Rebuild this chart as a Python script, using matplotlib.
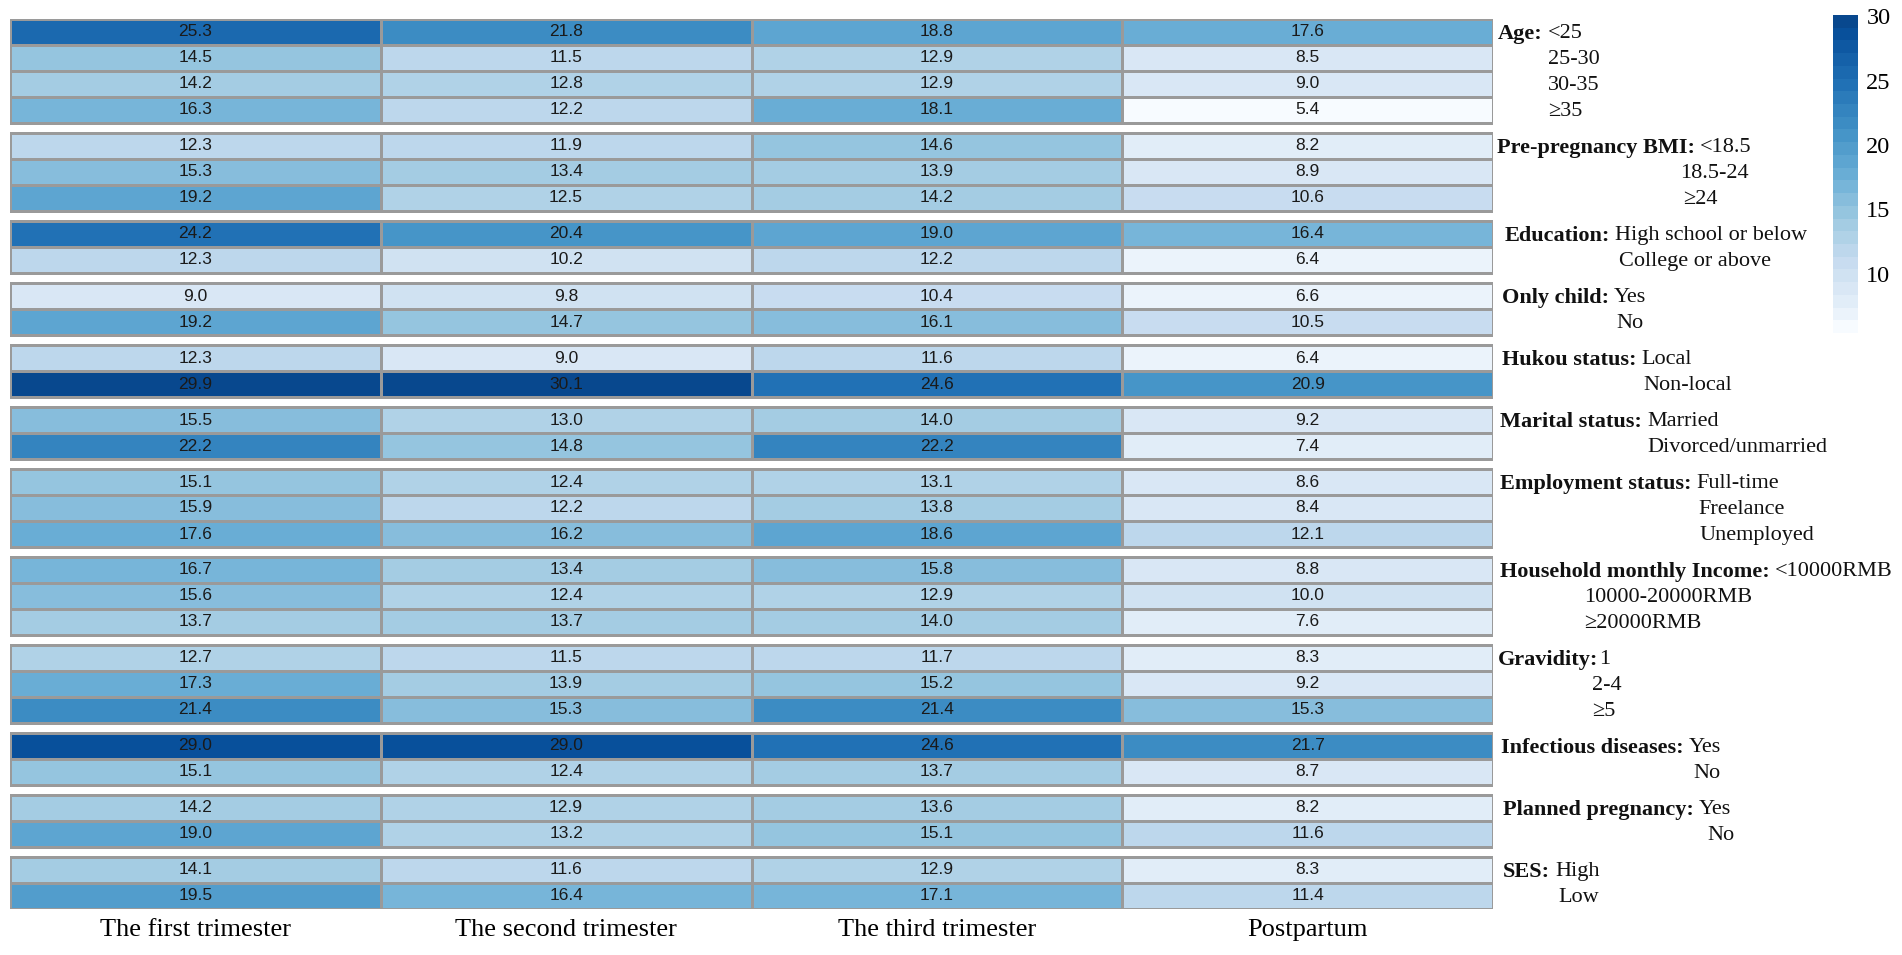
import numpy as np
import matplotlib
matplotlib.use("Agg")
import matplotlib.pyplot as plt
from matplotlib.colors import ListedColormap, Normalize
from matplotlib.cm import ScalarMappable
from matplotlib.transforms import blended_transform_factory

# ---- data (prevalence, %) ----
periods = ["The first trimester", "The second trimester", "The third trimester", "Postpartum"]

group_names = ["Age:", "Pre-pregnancy BMI:", "Education:", "Only child:", "Hukou status:",
               "Marital status:", "Employment status:", "Household monthly Income:",
               "Gravidity:", "Infectious diseases:", "Planned pregnancy:", "SES:"]

age_levels = ["<25", "25-30", "30-35", "≥35"]
age_vals = [[25.3, 21.8, 18.8, 17.6],
            [14.5, 11.5, 12.9, 8.5],
            [14.2, 12.8, 12.9, 9.0],
            [16.3, 12.2, 18.1, 5.4]]

bmi_levels = ["<18.5", "18.5-24", "≥24"]
bmi_vals = [[12.3, 11.9, 14.6, 8.2],
            [15.3, 13.4, 13.9, 8.9],
            [19.2, 12.5, 14.2, 10.6]]

edu_levels = ["High school or below", "College or above"]
edu_vals = [[24.2, 20.4, 19.0, 16.4],
            [12.3, 10.2, 12.2, 6.4]]

only_levels = ["Yes", "No"]
only_vals = [[9.0, 9.8, 10.4, 6.6],
             [19.2, 14.7, 16.1, 10.5]]

hukou_levels = ["Local", "Non-local"]
hukou_vals = [[12.3, 9.0, 11.6, 6.4],
              [29.9, 30.1, 24.6, 20.9]]

marital_levels = ["Married", "Divorced/unmarried"]
marital_vals = [[15.5, 13.0, 14.0, 9.2],
                [22.2, 14.8, 22.2, 7.4]]

employ_levels = ["Full-time", "Freelance", "Unemployed"]
employ_vals = [[15.1, 12.4, 13.1, 8.6],
               [15.9, 12.2, 13.8, 8.4],
               [17.6, 16.2, 18.6, 12.1]]

income_levels = ["<10000RMB", "10000-20000RMB", "≥20000RMB"]
income_vals = [[16.7, 13.4, 15.8, 8.8],
               [15.6, 12.4, 12.9, 10.0],
               [13.7, 13.7, 14.0, 7.6]]

gravid_levels = ["1", "2-4", "≥5"]
gravid_vals = [[12.7, 11.5, 11.7, 8.3],
               [17.3, 13.9, 15.2, 9.2],
               [21.4, 15.3, 21.4, 15.3]]

infect_levels = ["Yes", "No"]
infect_vals = [[29.0, 29.0, 24.6, 21.7],
               [15.1, 12.4, 13.7, 8.7]]

planned_levels = ["Yes", "No"]
planned_vals = [[14.2, 12.9, 13.6, 8.2],
                [19.0, 13.2, 15.1, 11.6]]

ses_levels = ["High", "Low"]
ses_vals = [[14.1, 11.6, 12.9, 8.3],
            [19.5, 16.4, 17.1, 11.4]]

all_levels = [age_levels, bmi_levels, edu_levels, only_levels, hukou_levels, marital_levels,
              employ_levels, income_levels, gravid_levels, infect_levels, planned_levels, ses_levels]
all_vals = [age_vals, bmi_vals, edu_vals, only_vals, hukou_vals, marital_vals,
            employ_vals, income_vals, gravid_vals, infect_vals, planned_vals, ses_vals]

# ---- layout (pixels) ----
W, H = 1902, 955
header_x = [1498, 1497, 1505, 1502, 1502, 1500, 1500, 1500, 1498, 1501, 1503, 1503]
# x of the 2nd, 3rd... level (first one follows the bold header)
level_x = [[1548, 1548, 1548], [1680, 1683], [1619], [1616],
           [1643], [1647], [1698, 1699], [1584, 1584],
           [1592, 1592], [1693], [1707], [1558]]
first_gap = [5, 5, 5, 5, 5, 5, 5, 5, 1, 5, 5, 5]
gap = 10 / 26.0
yoff = 0.56

serif = "Liberation Serif"
sans = "Liberation Sans"

flat = np.concatenate([np.array(v) for v in all_vals])
norm = Normalize(vmin=flat.min(), vmax=flat.max())
cmap = ListedColormap(plt.cm.Blues(0.91 * np.linspace(0.0, 1.0, 25) ** 0.85))

fig = plt.figure(figsize=(W / 100, H / 100), dpi=100)
ax = fig.add_axes([10 / W, 1 - 909 / H, (1493 - 10) / W, (909 - 19) / H])

lab_tr = blended_transform_factory(fig.transFigure, ax.transData)
renderer = fig.canvas.get_renderer()

y0 = 0.0
total = sum(len(v) for v in all_vals) + gap * (len(all_vals) - 1)
ax.set_xlim(0, 4)
ax.set_ylim(total, 0)

for gi, (vals, levels) in enumerate(zip(all_vals, all_levels)):
    arr = np.array(vals)
    n = arr.shape[0]
    ax.pcolormesh(np.arange(5), y0 + np.arange(n + 1), arr, cmap=cmap, norm=norm,
                  edgecolors="#9a9a9a", linewidth=0.8)
    for r in range(n):
        for c in range(4):
            ax.text(c + 0.5, y0 + r + 0.5, f"{arr[r, c]:.1f}", ha="center", va="center",
                    fontsize=12.5, family=sans, color="#1a1a1a")
    # row labels on the right
    hdr = ax.text(header_x[gi] / W, y0 + yoff, group_names[gi], transform=lab_tr, ha="left",
                  va="center", fontsize=16, family=serif, fontweight="bold", color="#111111")
    x_end = hdr.get_window_extent(renderer).x1
    ax.text((x_end + first_gap[gi]) / W, y0 + yoff, levels[0], transform=lab_tr, ha="left",
            va="center", fontsize=16, family=serif, color="#111111")
    for r, lev in enumerate(levels[1:], start=1):
        ax.text(level_x[gi][r - 1] / W, y0 + r + yoff, lev, transform=lab_tr, ha="left",
                va="center", fontsize=16, family=serif, color="#111111")
    y0 += n + gap

for s in ax.spines.values():
    s.set_visible(False)
ax.set_yticks([])
ax.set_xticks(np.arange(4) + 0.5)
ax.set_xticklabels(periods, family=serif, fontsize=19)
ax.tick_params(axis="x", length=0, pad=7)

# colorbar
cax = fig.add_axes([1833 / W, 1 - 333 / H, 25 / W, 318 / H])
cb = fig.colorbar(ScalarMappable(norm=norm, cmap=cmap), cax=cax, ticks=[10, 15, 20, 25, 30])
cb.outline.set_visible(False)
cax.tick_params(length=0, labelsize=17.5, pad=6)
for t in cax.get_yticklabels():
    t.set_family(serif)

fig.savefig("out.png", dpi=100)
